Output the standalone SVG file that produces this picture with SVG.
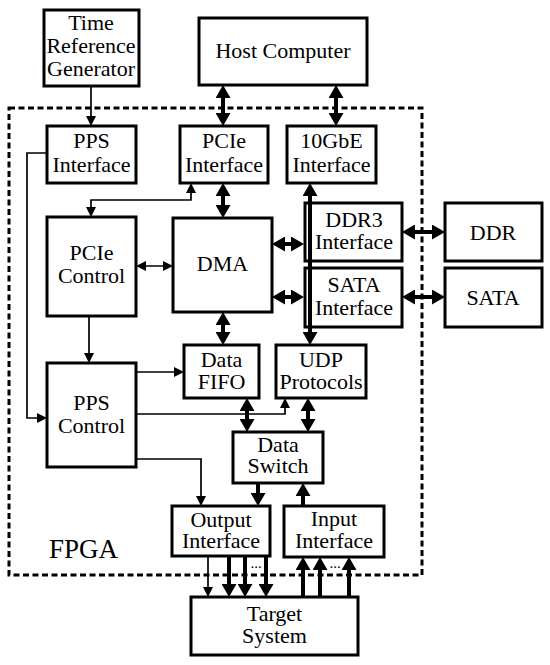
<svg xmlns="http://www.w3.org/2000/svg" width="550" height="665" viewBox="0 0 550 665" font-family="Liberation Serif, Times New Roman, DejaVu Serif, serif">
<style>
.b{fill:#fff;stroke:#000;stroke-width:3}
.t{font-family:'Liberation Serif','Times New Roman','DejaVu Serif',serif;font-size:22px;text-anchor:middle;fill:#000}
.k{fill:none;stroke:#000;stroke-width:4}
.n{fill:none;stroke:#000;stroke-width:1.7}
.dk{marker-start:url(#hk);marker-end:url(#hk)}
.sk{marker-end:url(#hk)}
.dn{marker-start:url(#hn);marker-end:url(#hn)}
.sn{marker-end:url(#hn)}
</style>
<defs>
<marker id="hk" markerUnits="userSpaceOnUse" markerWidth="14" markerHeight="15" refX="9" refY="7.5" orient="auto-start-reverse"><path d="M0,0 L13,7.5 L0,15 z" fill="#000"/></marker>
<marker id="hn" markerUnits="userSpaceOnUse" markerWidth="11" markerHeight="11" refX="8" refY="5" orient="auto-start-reverse"><path d="M0,0 L10,5 L0,10 z" fill="#000"/></marker>
</defs>
<rect x="9" y="108" width="413" height="467" fill="none" stroke="#000" stroke-width="3" stroke-dasharray="6,3.5"/>
<g id="connectors">
<line class="n sn" x1="91" y1="86" x2="91" y2="124"/>
<line class="k dk" x1="223" y1="89" x2="223" y2="122"/>
<line class="k dk" x1="336" y1="89" x2="336" y2="122"/>
<polyline class="n dn" points="191,185 191,200 91,200 91,215"/>
<line class="k dk" x1="223" y1="187" x2="223" y2="214"/>
<line class="n dn" x1="138" y1="266" x2="171" y2="266"/>
<line class="k dk" x1="276" y1="244" x2="300" y2="244"/>
<line class="k dk" x1="276" y1="297" x2="300" y2="297"/>
<line class="k dk" x1="406" y1="232" x2="441" y2="232"/>
<line class="k dk" x1="406" y1="297" x2="441" y2="297"/>
<line class="k dk" x1="310" y1="187" x2="310" y2="341"/>
<line class="k dk" x1="223" y1="316" x2="223" y2="341"/>
<line class="n sn" x1="89" y1="316" x2="89" y2="361"/>
<polyline class="n sn" points="47,153 27,153 27,418 45,418"/>
<line class="n sn" x1="136" y1="372" x2="182" y2="372"/>
<polyline class="n sn" points="136,414 285,414 285,400"/>
<polyline class="n sn" points="136,459 201,459 201,504"/>
<line class="k dk" x1="247" y1="402" x2="247" y2="428"/>
<line class="k dk" x1="308" y1="402" x2="308" y2="428"/>
<line class="k sk" x1="258" y1="483" x2="258" y2="502"/>
<line class="k sk" x1="303" y1="506" x2="303" y2="487"/>
<line class="n sn" x1="208" y1="556" x2="208" y2="595"/>
<line class="k sk" x1="229" y1="556" x2="229" y2="593"/>
<line class="k sk" x1="245" y1="556" x2="245" y2="593"/>
<line class="k sk" x1="266" y1="556" x2="266" y2="593"/>
<line class="k sk" x1="303" y1="597" x2="303" y2="561"/>
<line class="k sk" x1="320" y1="597" x2="320" y2="561"/>
<line class="k sk" x1="349" y1="597" x2="349" y2="561"/>
<text x="256" y="568" class="t" style="font-size:15px">...</text>
<text x="335" y="568" class="t" style="font-size:15px">...</text>
</g>
<g id="trg"><rect class="b" x="44" y="10" width="95" height="76"/><text class="t" x="91" y="30">Time</text><text class="t" x="91" y="53">Reference</text><text class="t" x="91" y="76">Generator</text></g>
<g id="host"><rect class="b" x="199" y="18" width="168" height="67"/><text class="t" x="283" y="58">Host Computer</text></g>
<g id="ppsif"><rect class="b" x="47" y="126" width="89" height="57"/><text class="t" x="91.5" y="148">PPS</text><text class="t" x="91.5" y="172">Interface</text></g>
<g id="pcieif"><rect class="b" x="180" y="126" width="88" height="57"/><text class="t" x="224" y="148">PCIe</text><text class="t" x="224" y="172">Interface</text></g>
<g id="gbeif"><rect class="b" x="287" y="126" width="89" height="57"/><text class="t" x="331.5" y="148">10GbE</text><text class="t" x="331.5" y="172">Interface</text></g>
<g id="pciectl"><rect class="b" x="47" y="217" width="89" height="99"/><text class="t" x="91.5" y="260">PCIe</text><text class="t" x="91.5" y="283">Control</text></g>
<g id="dma"><rect class="b" x="173" y="218" width="99" height="94"/><text class="t" x="222.5" y="271">DMA</text></g>
<g id="ddr3if"><rect class="b" x="305" y="203" width="97" height="58"/><text class="t" x="354" y="227">DDR3</text><text class="t" x="354" y="249">Interface</text></g>
<g id="sataif"><rect class="b" x="305" y="268" width="97" height="59"/><text class="t" x="354" y="292">SATA</text><text class="t" x="354" y="315">Interface</text></g>
<line x1="310" y1="200" x2="310" y2="330" stroke="#000" stroke-width="4"/>
<g id="ddr"><rect class="b" x="445" y="203" width="97" height="58"/><text class="t" x="493" y="240">DDR</text></g>
<g id="sata"><rect class="b" x="445" y="268" width="97" height="59"/><text class="t" x="493" y="305">SATA</text></g>
<g id="fifo"><rect class="b" x="184" y="345" width="75" height="53"/><text class="t" x="221.5" y="367">Data</text><text class="t" x="221.5" y="389">FIFO</text></g>
<g id="udp"><rect class="b" x="276" y="345" width="90" height="53"/><text class="t" x="321" y="367">UDP</text><text class="t" x="321" y="389">Protocols</text></g>
<g id="ppsctl"><rect class="b" x="47" y="363" width="89" height="104"/><text class="t" x="91.5" y="410">PPS</text><text class="t" x="91.5" y="433">Control</text></g>
<g id="switch"><rect class="b" x="233" y="432" width="90" height="51"/><text class="t" x="278" y="452">Data</text><text class="t" x="278" y="473">Switch</text></g>
<g id="outif"><rect class="b" x="172" y="506" width="98" height="50"/><text class="t" x="221" y="527">Output</text><text class="t" x="221" y="548">Interface</text></g>
<g id="inif"><rect class="b" x="284" y="506" width="100" height="51"/><text class="t" x="334" y="526">Input</text><text class="t" x="334" y="548">Interface</text></g>
<g id="target"><rect class="b" x="191" y="597" width="167" height="58"/><text class="t" x="274.5" y="621">Target</text><text class="t" x="274.5" y="643">System</text></g>
<text x="49" y="558" font-family="Liberation Serif, Times New Roman, DejaVu Serif, serif" font-size="27">FPGA</text>
</svg>
